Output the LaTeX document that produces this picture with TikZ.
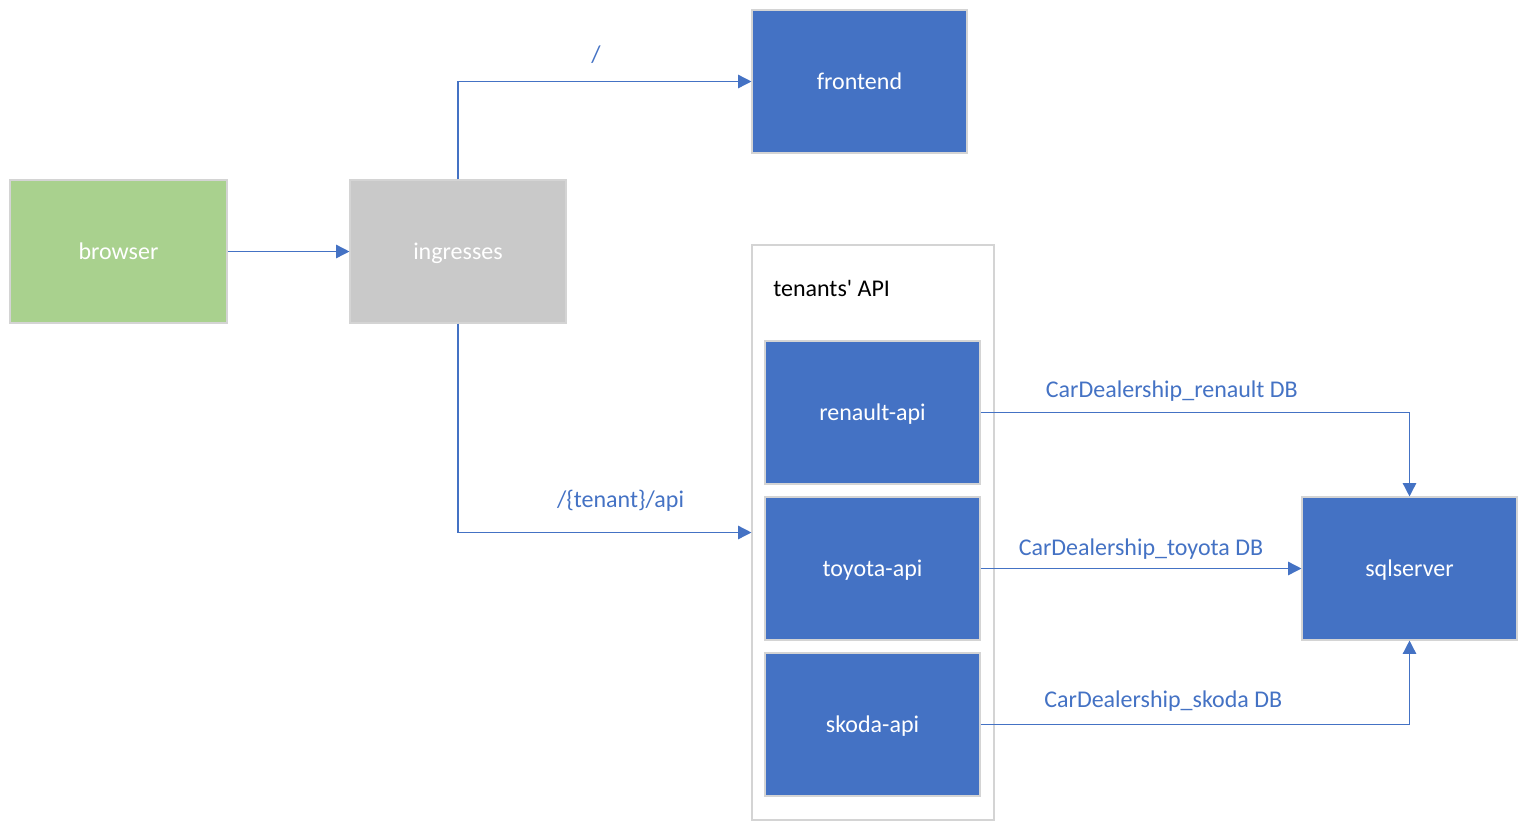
\documentclass[tikz,border=0pt]{standalone}
\usepackage{fontspec}
\setmainfont{Carlito}[Ligatures=TeXOff]
\usetikzlibrary{arrows.meta}
\definecolor{boxblue}{HTML}{4472C4}
\definecolor{boxgreen}{HTML}{A9D18E}
\definecolor{boxgray}{HTML}{C9C9C9}
\definecolor{boxline}{HTML}{D4D4D4}
\begin{document}
\begin{tikzpicture}[x=0.75pt,y=-0.75pt,->,>={Triangle[length=10pt,width=10pt]}]
        \tikzstyle{box}=[draw=boxline,line width=0.8pt,fill=boxblue,text=white,inner sep=0pt,minimum width=161.25pt,minimum height=107.25pt,text height=14pt,text depth=2.5pt,font=\fontsize{18}{22}\selectfont]
        \tikzstyle{group}=[draw=boxline,line width=0.8pt,inner sep=0pt,minimum width=181.5pt,minimum height=431.25pt]
        \tikzstyle{route}=[text=boxblue,inner sep=0pt,font=\fontsize{18}{22}\selectfont]
        \tikzstyle{edge}=[draw=boxblue,line width=1.1pt]
       \useasboundingbox (0,0) rectangle (1528,832);
       \begin{scope}
         \node [group] (tenants) at (873,532.5) {};
         \node [anchor=west,inner sep=0pt,font=\fontsize{18}{22}\selectfont] (tenantstitle) at (773,288) {tenants' API};
         \node [box,fill=boxgreen,minimum width=162.75pt] (browser) at (118.5,251.5) {browser};
         \node [box,fill=boxgray,minimum width=162pt] (ingresses) at (458,251.5) {ingresses};
         \node [box] (frontend) at (859.5,81.5) {frontend};
         \node [box] (renault) at (872.5,412.5) {renault-api};
         \node [box] (toyota) at (872.5,568.5) {toyota-api};
         \node [box] (skoda) at (872.5,724.5) {skoda-api};
         \node [box] (sqlserver) at (1409.5,568.5) {sqlserver};
         \path[edge] (browser) -- (ingresses);
         \path[edge] (ingresses.north) |- node[route,pos=0.735,above=13pt] {/} (frontend.west);
         \path[edge] (ingresses.south) |- node[route,pos=0.777,above=15pt] {/\{tenant\}/api} (tenants.west);
         \path[edge] (renault.east) -| node[route,pos=0.223,above=8pt] {CarDealership\_renault DB} (sqlserver.north);
         \path[edge] (toyota.east) -- node[route,pos=0.5,above=6pt] {CarDealership\_toyota DB} (sqlserver.west);
         \path[edge] (skoda.east) -| node[route,pos=0.213,above=9pt] {CarDealership\_skoda DB} (sqlserver.south);
        \end{scope}
      \end{tikzpicture}
\end{document}
